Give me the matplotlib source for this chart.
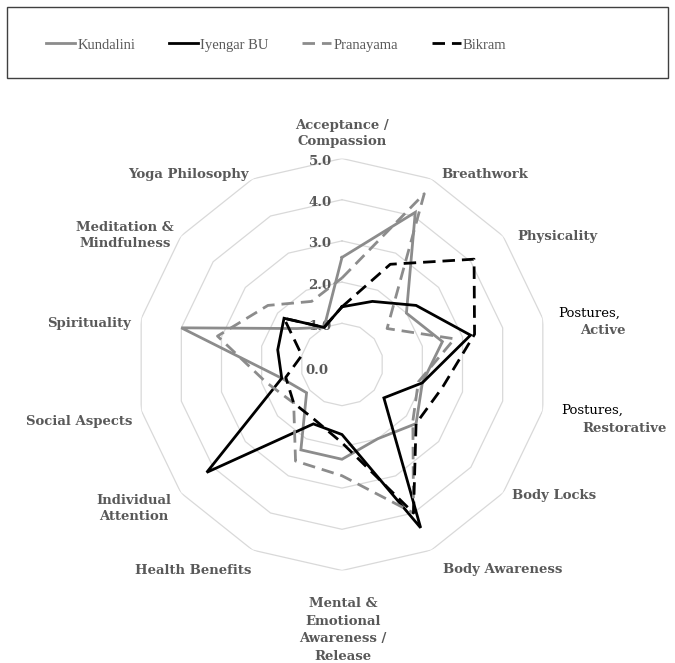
import numpy as np
import matplotlib
matplotlib.use("Agg")
import matplotlib.pyplot as plt
from matplotlib.lines import Line2D
from matplotlib.patches import Rectangle
from matplotlib.transforms import offset_copy

# axes clockwise from the top
categories = [
    "Acceptance /\nCompassion", "Breathwork", "Physicality", "Postures, Active",
    "Postures, Restorative", "Body Locks", "Body Awareness",
    "Mental &\nEmotional\nAwareness /\nRelease", "Health Benefits",
    "Individual\nAttention", "Social Aspects", "Spirituality",
    "Meditation &\nMindfulness", "Yoga Philosophy",
]
kundalini = [2.6, 4.1, 2.0, 2.5, 2.0, 2.3, 2.0, 2.3, 2.3, 1.1, 1.5, 4.0, 1.4, 1.0]
iyengar = [1.4, 1.7, 2.3, 3.2, 2.0, 1.3, 4.4, 1.7, 1.6, 4.2, 1.5, 1.6, 1.8, 1.0]
pranayama = [2.1, 4.6, 1.4, 2.8, 1.9, 2.2, 4.0, 2.7, 2.6, 1.5, 1.9, 3.1, 2.3, 1.7]
bikram = [1.4, 2.7, 4.1, 3.3, 2.5, 2.3, 4.0, 1.9, 1.5, 1.5, 1.4, 1.0, 1.8, 1.0]
ring_values = [1.0, 2.0, 3.0, 4.0, 5.0]
tick_values = [0.0, 1.0, 2.0, 3.0, 4.0, 5.0]

W, H = 675, 663
LABEL_GREY = "#595959"
BOLD_SERIF = ["DejaVu Serif"]
THIN_SERIF = ["Liberation Serif", "DejaVu Serif"]
LABEL_SIZE = 9.5


def px(x, y):
    return x / W, 1 - y / H


fig = plt.figure(figsize=(W / 100, H / 100), dpi=100)
ax = fig.add_axes([136 / W, 1 - 570.5 / H, 412 / W, 412 / H], projection="polar")
ax.set_theta_zero_location("N")
ax.set_theta_direction(-1)
ax.set_ylim(0, 5)
ax.set_xticks([])
ax.set_yticks([])
ax.grid(False)
ax.spines["polar"].set_visible(False)
ax.patch.set_alpha(0)

n = len(categories)
theta = np.linspace(0, 2 * np.pi, n, endpoint=False)
closed = np.append(theta, theta[0])

for r in ring_values:
    ax.plot(closed, [r] * (n + 1), color="#d9d9d9", lw=0.9, zorder=1)

for v in tick_values:
    dx, dy = (-22, -3) if v > 0 else (-25, -5.5)
    t = offset_copy(ax.transData, fig=fig, x=dx, y=dy, units="dots")
    ax.text(0, v, f"{v:.1f}", transform=t, ha="center", va="center",
            fontsize=LABEL_SIZE, fontweight="bold", color=LABEL_GREY,
            family=BOLD_SERIF, zorder=2)

series = [
    ("Kundalini", kundalini, "#8c8c8c", "-"),
    ("Iyengar BU", iyengar, "black", "-"),
    ("Pranayama", pranayama, "#8c8c8c", "--"),
    ("Bikram", bikram, "black", "--"),
]
handles = []
for name, vals, col, ls in series:
    kw = dict(color=col, lw=2.0, solid_joinstyle="miter")
    if ls == "--":
        kw["dashes"] = (4.5, 2.5)
    ax.plot(closed, vals + vals[:1], zorder=3, **kw)
    handles.append(Line2D([], [], label=name, **kw))

# category labels
simple = {
    0: (342, 133), 1: (485, 175), 2: (557, 236), 5: (554, 495), 6: (503, 570),
    7: (343, 630), 8: (193, 570), 9: (134, 508), 10: (79, 421), 11: (89, 324),
    12: (125, 235), 13: (188, 175),
}
for i, (x, y) in simple.items():
    fig.text(*px(x, y), categories[i], ha="center", va="center",
             fontsize=LABEL_SIZE, fontweight="bold", color=LABEL_GREY,
             family=BOLD_SERIF, linespacing=1.45 if i == 7 else 1.3)

for i, (x1, y1, x2, y2) in {3: (558, 313, 580, 331), 4: (561, 410, 582, 428)}.items():
    first, second = categories[i].split(", ")
    fig.text(*px(x1, y1), first + ",", ha="left", va="center", fontsize=LABEL_SIZE,
             color="black", family=BOLD_SERIF)
    fig.text(*px(x2, y2), second, ha="left", va="center", fontsize=LABEL_SIZE,
             fontweight="bold", color=LABEL_GREY, family=BOLD_SERIF)

# legend box
fig.patches.append(Rectangle(px(7, 78), 661 / W, 71 / H, transform=fig.transFigure,
                             fill=False, edgecolor="#404040", lw=1.0))
fig.legend(handles=handles, loc="center left", bbox_to_anchor=px(33, 45), ncol=4,
           frameon=False, handlelength=2.0, handletextpad=0.15, columnspacing=2.3,
           prop={"family": THIN_SERIF, "size": 10.5}, labelcolor=LABEL_GREY)

fig.savefig("out.png", dpi=100)
